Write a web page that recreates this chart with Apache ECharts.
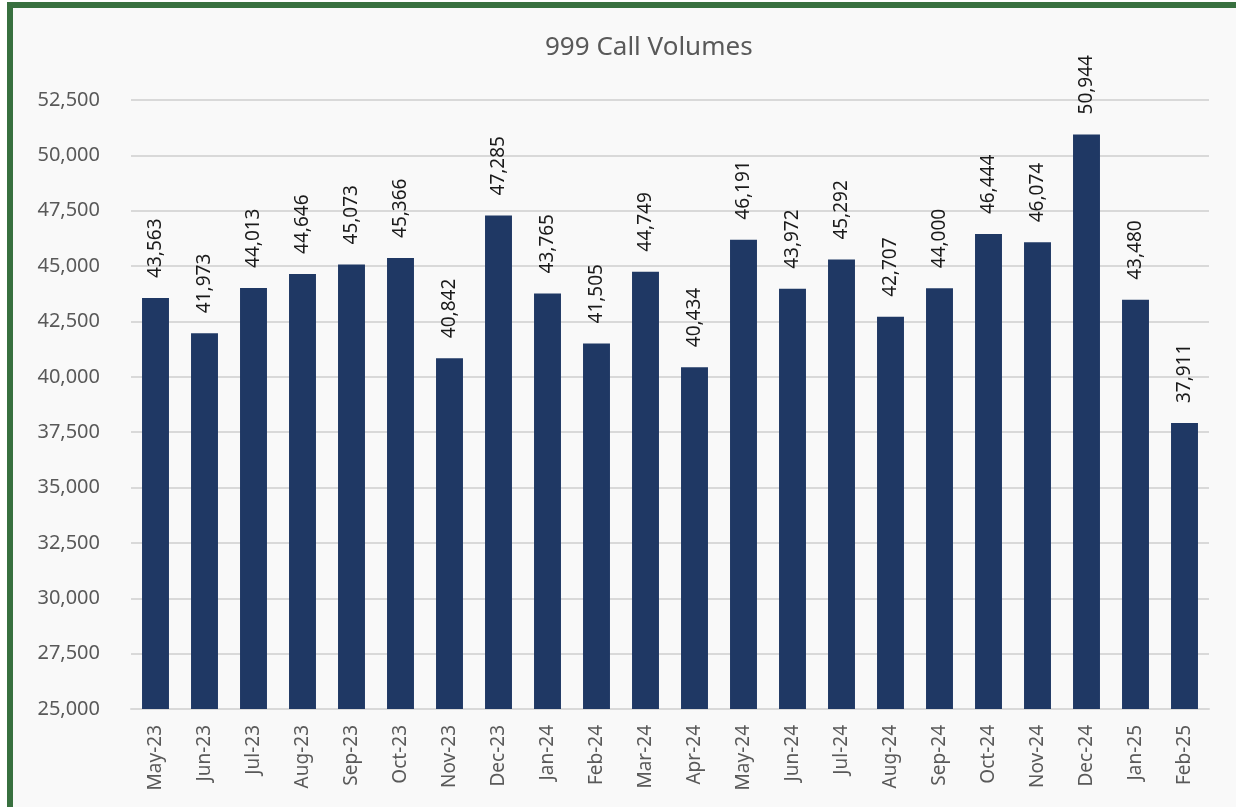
<!DOCTYPE html>
<html>
<head>
<meta charset="utf-8">
<script src="https://cdn.jsdelivr.net/npm/echarts@6/dist/echarts.min.js"></script>
<style>
  html, body { margin: 0; padding: 0; width: 100%; height: 100%; background: #ffffff; overflow: hidden; }
  #frame {
    position: absolute; left: 7px; top: 2px; width: 1260px; height: 840px;
    border: 6px solid #38703f; background: #f9f9f9; box-sizing: border-box;
  }
  #main { position: absolute; left: 0; top: 0; width: 1236px; height: 807px; }
</style>
</head>
<body>
<div id="frame"></div>
<div id="main"></div>
<script>
// months on the x axis
const months = ['May-23', 'Jun-23', 'Jul-23', 'Aug-23', 'Sep-23', 'Oct-23', 'Nov-23', 'Dec-23',
  'Jan-24', 'Feb-24', 'Mar-24', 'Apr-24', 'May-24', 'Jun-24', 'Jul-24', 'Aug-24', 'Sep-24',
  'Oct-24', 'Nov-24', 'Dec-24', 'Jan-25', 'Feb-25'];
// monthly 999 calls
const callVolumes = [43563, 41973, 44013, 44646, 45073, 45366, 40842, 47285,
  43765, 41505, 44749, 40434, 46191, 43972, 45292, 42707, 44000,
  46444, 46074, 50944, 43480, 37911];
const yMin = 25000;
const yMax = 52500;
const yStep = 2500;

const fmt = v => v.toLocaleString('en-GB');
const font = '"Noto Sans", "Open Sans", sans-serif';

const chart = echarts.init(document.getElementById('main'));
chart.setOption({
  animation: false,
  textStyle: { fontFamily: font },
  title: {
    text: '999 Call Volumes',
    left: 540,
    top: 30,
    textStyle: { fontFamily: font, fontSize: 26, fontWeight: 'normal', color: '#595959' }
  },
  grid: { left: 131, right: 27, top: 100, bottom: 98, containLabel: false },
  xAxis: {
    type: 'category',
    data: months,
    axisLine: { lineStyle: { color: '#d9d9d9', width: 2 } },
    axisTick: { show: false },
    axisLabel: { rotate: 90, fontSize: 19, color: '#595959', margin: 16, fontFamily: font }
  },
  yAxis: {
    type: 'value',
    min: yMin,
    max: yMax,
    interval: yStep,
    axisLine: { show: false },
    axisTick: { show: false },
    splitLine: { lineStyle: { color: '#d9d9d9', width: 2 } },
    axisLabel: { fontSize: 20, color: '#595959', margin: 31, fontFamily: font, formatter: v => fmt(v) }
  },
  series: [{
    type: 'bar',
    data: callVolumes,
    barWidth: '55%',
    itemStyle: { color: '#1f3864' },
    label: {
      show: true,
      position: 'top',
      rotate: 90,
      align: 'left',
      verticalAlign: 'middle',
      distance: 20,
      fontSize: 19,
      color: '#1a1a1a',
      fontFamily: font,
      formatter: p => fmt(p.value)
    }
  }]
});
</script>
</body>
</html>
